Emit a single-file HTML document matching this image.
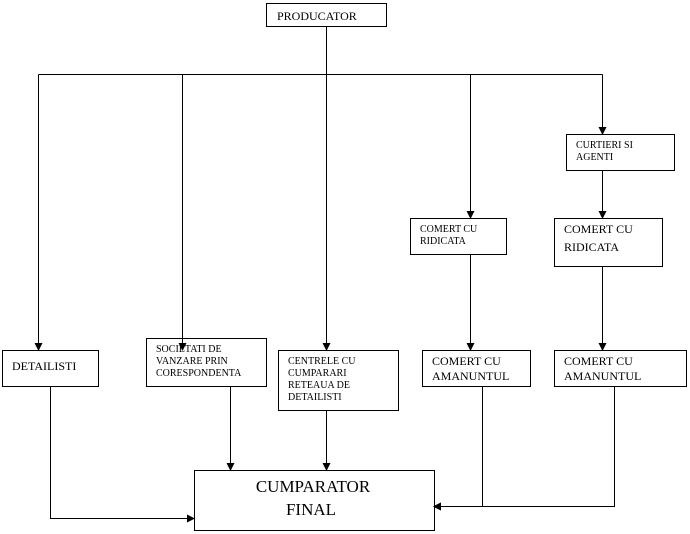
<!DOCTYPE html>
<html><head><style>html,body{margin:0;padding:0;background:#fff}svg{display:block}text{font-family:"Liberation Serif",serif;fill:#000}</style></head><body>
<svg width="690" height="534" viewBox="0 0 690 534">
<defs><marker id="a" markerWidth="8" markerHeight="8" refX="7" refY="4" orient="auto" markerUnits="userSpaceOnUse"><path d="M0,0 L8,4 L0,8z" fill="#000"/></marker></defs>
<g fill="none" stroke="#000" stroke-width="1">
<rect x="266.5" y="3.5" width="120" height="23"/>
<rect x="2.5" y="350.5" width="96" height="36"/>
<rect x="146.5" y="338.5" width="120" height="48"/>
<rect x="278.5" y="350.5" width="120" height="60"/>
<rect x="410.5" y="218.5" width="96" height="36"/>
<rect x="566.5" y="134.5" width="108" height="36"/>
<rect x="554.5" y="218.5" width="108" height="48"/>
<rect x="422.5" y="350.5" width="108" height="36"/>
<rect x="554.5" y="350.5" width="132" height="36"/>
<rect x="194.5" y="470.5" width="240" height="60"/>
<path d="M326.5 26V74.5M38.5 74.5H602.5"/>
<path d="M38.5 74.5V350" marker-end="url(#a)"/>
<path d="M182.5 74.5V350" marker-end="url(#a)"/>
<path d="M326.5 74.5V350" marker-end="url(#a)"/>
<path d="M470.5 74.5V218" marker-end="url(#a)"/>
<path d="M602.5 74.5V134" marker-end="url(#a)"/>
<path d="M602.5 170V218" marker-end="url(#a)"/>
<path d="M470.5 254V350" marker-end="url(#a)"/>
<path d="M602.5 266V350" marker-end="url(#a)"/>
<path d="M50.5 386V518.5H194" marker-end="url(#a)"/>
<path d="M230.5 386V470" marker-end="url(#a)"/>
<path d="M326.5 410V470" marker-end="url(#a)"/>
<path d="M482.5 386V506.5H434" marker-end="url(#a)"/>
<path d="M614.5 386V506.5H434" marker-end="url(#a)"/>
</g>
<text x="277" y="20" font-size="12">PRODUCATOR</text>
<text x="12" y="370" font-size="12">DETAILISTI</text>
<g font-size="10"><text x="156" y="352">SOCIETATI DE</text><text x="156" y="364">VANZARE PRIN</text><text x="156" y="376">CORESPONDENTA</text></g>
<g font-size="10"><text x="288" y="364">CENTRELE CU</text><text x="288" y="376">CUMPARARI</text><text x="288" y="388">RETEAUA DE</text><text x="288" y="400">DETAILISTI</text></g>
<g font-size="10"><text x="420" y="232">COMERT CU</text><text x="420" y="244">RIDICATA</text></g>
<g font-size="10"><text x="576" y="148">CURTIERI SI</text><text x="576" y="160">AGENTI</text></g>
<g font-size="12"><text x="564" y="233">COMERT CU</text><text x="564" y="251">RIDICATA</text></g>
<g font-size="12"><text x="432" y="365">COMERT CU</text><text x="432" y="380">AMANUNTUL</text></g>
<g font-size="12"><text x="564" y="365">COMERT CU</text><text x="564" y="380">AMANUNTUL</text></g>
<g font-size="17" text-anchor="middle"><text x="313" y="492">CUMPARATOR</text><text x="311" y="515">FINAL</text></g>
</svg>
</body></html>
